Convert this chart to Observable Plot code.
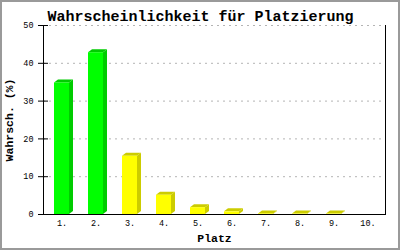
<!DOCTYPE html>
<html>
<head>
<meta charset="utf-8">
<script src="https://cdn.jsdelivr.net/npm/d3@7"></script>
<script src="https://cdn.jsdelivr.net/npm/@observablehq/plot@0.6"></script>
<style>
  html, body { margin: 0; padding: 0; background: white; }
  #wrap { position: relative; width: 400px; height: 250px; overflow: hidden; }
  #border { position: absolute; left: 0; top: 0; width: 400px; height: 250px; box-sizing: border-box; border: 2px solid #9a9a9a; pointer-events: none; }
</style>
</head>
<body>
<div id="wrap"><div id="border"></div></div>
<script>
const title = "Wahrscheinlichkeit für Platzierung";
const xLabel = "Platz";
const yLabel = "Wahrsch. (%)";
const places = ["1.", "2.", "3.", "4.", "5.", "6.", "7.", "8.", "9.", "10."];
const probs = [34.8, 42.8, 15.4, 5.1, 1.8, 0.7, 0.15, 0.1, 0.1, 0];
const groups = ["top", "top", "rest", "rest", "rest", "rest", "rest", "rest", "rest", "rest"];
const yTicks = [0, 10, 20, 30, 40, 50];

const frontColor = {top: "#00ff00", rest: "#ffff00"};
const darkColor = {top: "#00cc00", rest: "#cccc00"};

const data = places.map((place, i) => ({place, p: probs[i], group: groups[i]}));

const DX = 4, DY = 3;

function bars3d(index, scales, values) {
  const g = d3.create("svg:g");
  const bw = scales.x.bandwidth();
  for (const i of index) {
    const x = values.x[i];
    const yT = Math.min(values.y1[i], values.y2[i]);
    const yB = Math.max(values.y1[i], values.y2[i]);
    if (data[i].p === 0) continue;
    const dark = darkColor[data[i].group];
    const front = frontColor[data[i].group];
    g.append("polygon")
      .attr("points", [[x, yT], [x + bw, yT], [x + bw + DX, yT - DY], [x + DX, yT - DY]].map(p => p.join(",")).join(" "))
      .attr("fill", dark);
    g.append("polygon")
      .attr("points", [[x + bw, yT], [x + bw + DX, yT - DY], [x + bw + DX, yB - DY], [x + bw, yB]].map(p => p.join(",")).join(" "))
      .attr("fill", dark);
    g.append("rect")
      .attr("x", x).attr("y", yT).attr("width", bw).attr("height", yB - yT)
      .attr("fill", front);
  }
  return g.node();
}

const chart = Plot.plot({
  width: 400,
  height: 250,
  marginLeft: 43,
  marginRight: 15,
  marginTop: 25,
  marginBottom: 36,
  style: {fontFamily: "'Liberation Mono', monospace", fontSize: "8px", background: "transparent", color: "black"},
  x: {type: "band", domain: places, paddingInner: 0.56, paddingOuter: 0.28, align: 0.5, label: null},
  y: {domain: [0, 50], ticks: yTicks, label: null},
  marks: [
    Plot.gridY(yTicks.filter(d => d > 0), {stroke: "#b4b4b4", strokeOpacity: 1, strokeDasharray: "2,4"}),
    Plot.barY(data, {x: "place", y: "p", render: bars3d}),
    Plot.frame({anchor: "right", stroke: "black"}),
    Plot.frame({anchor: "left", stroke: "black"}),
    Plot.frame({anchor: "bottom", stroke: "black"}),
    Plot.axisY(yTicks, {tickSize: 10, dx: 5, tickPadding: 5, label: null, fontSize: 8.5}),
    Plot.axisX({tickSize: 0, tickPadding: 5, label: null, fontSize: 8.5}),
    Plot.text([title], {frameAnchor: "top", dx: -14, dy: -15, fontSize: 15, fontWeight: "bold", textAnchor: "middle"}),
    Plot.text([xLabel], {frameAnchor: "bottom", dy: 27, fontSize: 11.5, fontWeight: "bold", textAnchor: "middle"}),
    Plot.text([yLabel], {frameAnchor: "left", dx: -34, rotate: -90, fontSize: 11.5, fontWeight: "bold", textAnchor: "middle"})
  ]
});

document.getElementById("wrap").insertBefore(chart, document.getElementById("border"));
</script>
</body>
</html>
